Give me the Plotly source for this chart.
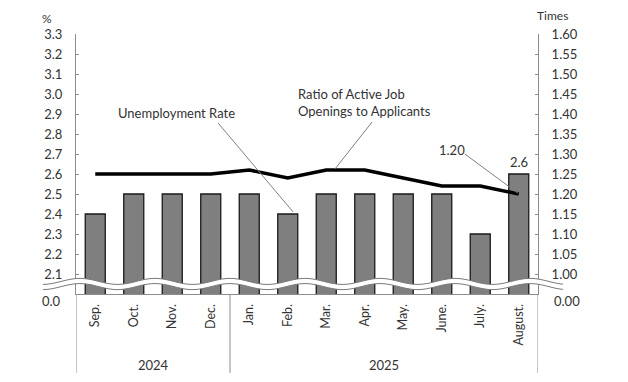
import numpy as np
import plotly.graph_objects as go

months = ["Sep.", "Oct.", "Nov.", "Dec.", "Jan.", "Feb.", "Mar.", "Apr.", "May.", "June.", "July.", "August."]
years = ["2024", "2025"]
year_groups = [(0, 3), (4, 11)]
unemployment = [2.4, 2.5, 2.5, 2.5, 2.5, 2.4, 2.5, 2.5, 2.5, 2.5, 2.3, 2.6]
ratio = [1.25, 1.25, 1.25, 1.25, 1.26, 1.24, 1.26, 1.26, 1.24, 1.22, 1.22, 1.20]
left_ticks = [2.1, 2.2, 2.3, 2.4, 2.5, 2.6, 2.7, 2.8, 2.9, 3.0, 3.1, 3.2, 3.3]
right_ticks = [1.00, 1.05, 1.10, 1.15, 1.20, 1.25, 1.30, 1.35, 1.40, 1.45, 1.50, 1.55, 1.60]

W, H = 628, 382
ML, MR, MT, MB = 76, 90, 34, 88
PW, PH = W - ML - MR, H - MT - MB
FONT = "Lato"
TXT = "#333333"
AX = "#8c8c8c"

def px2paper(px, py):
    return (px - ML) / PW, (H - MB - py) / PH

idx = list(range(len(months)))

fig = go.Figure()
fig.add_trace(go.Bar(x=idx, y=unemployment, marker=dict(color="#7f7f7f", line=dict(color="#1a1a1a", width=1.3)),
                     yaxis="y", showlegend=False, hoverinfo="skip"))
fig.add_trace(go.Scatter(x=idx, y=ratio, mode="lines", line=dict(color="black", width=3.5),
                         yaxis="y2", showlegend=False, hoverinfo="skip"))

shapes = []
# wavy axis break
xs = np.arange(43, 564, 1.0)
yc = 284 - 3.0 * np.cos(2 * np.pi * (xs - 155) / 75)
top = [px2paper(a, b - 2.6) for a, b in zip(xs, yc)]
bot = [px2paper(a, b + 2.6) for a, b in zip(xs, yc)]
poly = "M " + " L ".join(f"{a:.5f},{b:.5f}" for a, b in top + bot[::-1]) + " Z"
shapes.append(dict(type="path", xref="paper", yref="paper", path=poly, fillcolor="white",
                   line=dict(width=0), layer="above"))
for pts in (top, bot):
    shapes.append(dict(type="path", xref="paper", yref="paper",
                       path="M " + " L ".join(f"{a:.5f},{b:.5f}" for a, b in pts),
                       line=dict(color="#7a7a7a", width=1), layer="above"))
# category group dividers
ybot = px2paper(0, 373)[1]
for xv in (-0.5, 3.5, 11.5):
    shapes.append(dict(type="line", xref="x", yref="paper", x0=xv, x1=xv, y0=0, y1=ybot,
                       line=dict(color=AX, width=1)))
# leader lines
shapes.append(dict(type="line", xref="x", yref="y", x0=3.19, y0=2.855, x1=5 + 0.14, y1=unemployment[5] + 0.01,
                   line=dict(color="#808080", width=1)))
shapes.append(dict(type="line", xref="x", yref="y2", x0=7.19, y0=1.38, x1=6.23, y1=(ratio[6] + ratio[7]) / 2 + 0.003,
                   line=dict(color="#808080", width=1)))
shapes.append(dict(type="line", xref="x", yref="y2", x0=9.6, y0=1.30, x1=11 - 0.02, y1=ratio[11] + 0.002,
                   line=dict(color="#808080", width=1)))

ann = []
def A(text, x, y, xref="paper", yref="paper", xanchor="center", yanchor="middle", size=13, align="center"):
    ann.append(dict(text=text, x=x, y=y, xref=xref, yref=yref, xanchor=xanchor, yanchor=yanchor,
                    showarrow=False, font=dict(family=FONT, size=size, color=TXT), align=align))

for yname, (a, b) in zip(years, year_groups):
    A(yname, (a + b) / 2, px2paper(0, 365)[1], xref="x")
p = px2paper(63, 301); A("0.0", p[0], p[1], xanchor="right")
p = px2paper(552, 301); A("0.00", p[0], p[1], xanchor="left")
p = px2paper(40, 18); A("%", p[0], p[1], xanchor="left", size=12)
p = px2paper(535, 15); A("Times", p[0], p[1], xanchor="left", size=12)
A("Unemployment Rate", 2.1, 2.905, xref="x", yref="y")
A("Ratio of Active Job<br>Openings to Applicants", 5.22, 1.43, xref="x", yref="y2", xanchor="left", align="left")
A("1.20", 9.66, 1.31, xref="x", yref="y2", xanchor="right")
A(f"{unemployment[11]}", 11, unemployment[11], xref="x", yref="y", yanchor="bottom")
ann[-1]["yshift"] = 2

fig.update_layout(
    width=W, height=H, margin=dict(l=ML, r=MR, t=MT, b=MB),
    paper_bgcolor="white", plot_bgcolor="white",
    bargap=0.48, shapes=shapes, annotations=ann,
    font=dict(family=FONT, color=TXT, size=13),
    xaxis=dict(range=[-0.5, 11.5], tickmode="array", tickvals=idx, ticktext=months, tickangle=-90,
               showline=True, linecolor=AX, linewidth=1, ticks="", showgrid=False, zeroline=False,
               tickfont=dict(family=FONT, size=12.5, color=TXT), ticklabelstandoff=4),
    yaxis=dict(range=[2.0, 3.3], tickmode="array", tickvals=left_ticks, ticktext=[f"{v:.1f}" for v in left_ticks],
               showline=True, linecolor=AX, linewidth=1, ticks="inside", ticklen=3, tickcolor=AX,
               showgrid=False, zeroline=False, tickfont=dict(family=FONT, size=13, color=TXT),
               ticklabelstandoff=10),
    yaxis2=dict(range=[0.95, 1.60], overlaying="y", side="right", tickmode="array", tickvals=right_ticks,
                ticktext=[f"{v:.2f}" for v in right_ticks],
                showline=True, linecolor=AX, linewidth=1, ticks="inside", ticklen=3, tickcolor=AX,
                showgrid=False, zeroline=False, tickfont=dict(family=FONT, size=13, color=TXT),
                ticklabelstandoff=10),
)
fig.write_html("out.html", config={"displayModeBar": False},
               post_script="document.body.style.margin='0';document.body.style.overflow='hidden';")
